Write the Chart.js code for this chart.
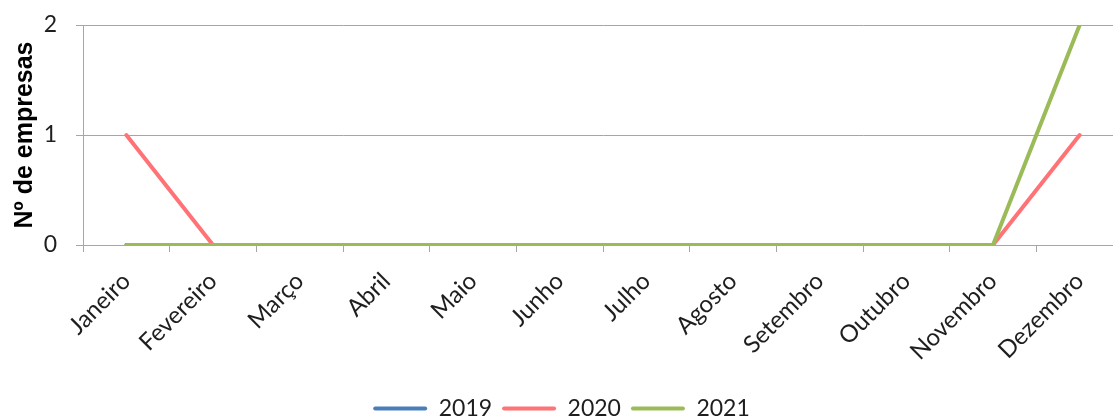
<!DOCTYPE html>
<html lang="pt">
<head>
<meta charset="utf-8">
<title>Nº de empresas por mês</title>
<script src="https://cdn.jsdelivr.net/npm/chart.js@4/dist/chart.umd.min.js"></script>
<style>
  html, body { margin: 0; padding: 0; background: #fff; overflow: hidden; }
  #wrap { width: 1134px; height: 430px; }
</style>
</head>
<body>
<div id="wrap"><canvas id="chart" width="1134" height="430"></canvas></div>
<script>
const months = ['Janeiro', 'Fevereiro', 'Março', 'Abril', 'Maio', 'Junho',
  'Julho', 'Agosto', 'Setembro', 'Outubro', 'Novembro', 'Dezembro'];
// 2019 has no value for December
const values2019 = [0, 0, 0, 0, 0, 0, 0, 0, 0, 0, 0, null];
const values2020 = [1, 0, 0, 0, 0, 0, 0, 0, 0, 0, 0, 1];
const values2021 = [0, 0, 0, 0, 0, 0, 0, 0, 0, 0, 0, 2];
const yTicks = [0, 1, 2];

const gridGray = '#a6a6a6';
const textColor = '#1e1e1e';

function series(label, data, color, order) {
  return {
    label: label,
    data: data,
    borderColor: color,
    backgroundColor: color,
    borderWidth: 4,
    borderCapStyle: 'round',
    borderJoinStyle: 'round',
    pointRadius: 0,
    tension: 0,
    spanGaps: false,
    order: order
  };
}

const ctx = document.getElementById('chart').getContext('2d');

new Chart(ctx, {
  type: 'line',
  data: {
    labels: months,
    datasets: [
      series('2019', values2019, '#4a7ebb', 2),
      series('2020', values2020, '#ff7377', 1),
      series('2021', values2021, '#9bbb59', 0)
    ]
  },
  options: {
    responsive: false,
    animation: false,
    layout: { padding: { left: 0, top: 25, right: 11, bottom: 0 } },
    plugins: {
      tooltip: { enabled: false },
      legend: {
        position: 'bottom',
        labels: {
          color: textColor,
          font: { family: 'Lato', size: 23 },
          boxWidth: 54,
          boxHeight: 4,
          padding: 10,
          useBorderRadius: true,
          borderRadius: 2,
          generateLabels: (chart) => chart.data.datasets.map((ds, i) => ({
            text: ds.label,
            fillStyle: ds.borderColor,
            strokeStyle: ds.borderColor,
            lineWidth: 0,
            fontColor: textColor,
            hidden: false,
            borderRadius: 2,
            datasetIndex: i
          }))
        }
      }
    },
    scales: {
      x: {
        offset: true,
        grid: {
          offset: true,
          drawOnChartArea: false,
          drawTicks: true,
          tickLength: 7,
          color: gridGray
        },
        border: { display: true, color: gridGray },
        ticks: {
          color: textColor,
          font: { family: 'Lato', size: 24 },
          minRotation: 45,
          maxRotation: 45,
          autoSkip: false,
          padding: 15
        },
        afterFit: (scale) => { scale.height = 142; }
      },
      y: {
        min: 0,
        max: 2,
        afterBuildTicks: (scale) => { scale.ticks = yTicks.map(v => ({ value: v })); },
        grid: {
          color: gridGray,
          tickLength: 7
        },
        border: { display: true, color: gridGray },
        ticks: {
          color: textColor,
          font: { family: 'Lato', size: 23 },
          padding: 19
        },
        title: {
          display: true,
          text: 'Nº de empresas',
          color: '#000',
          font: { family: 'Liberation Sans', size: 25, weight: 'bold' },
          padding: { top: 10, bottom: 0 }
        },
        afterFit: (scale) => {
          scale.width = 83;
          scale.paddingTop = 0;
          scale.paddingBottom = 0;
        }
      }
    }
  }
});
</script>
</body>
</html>
